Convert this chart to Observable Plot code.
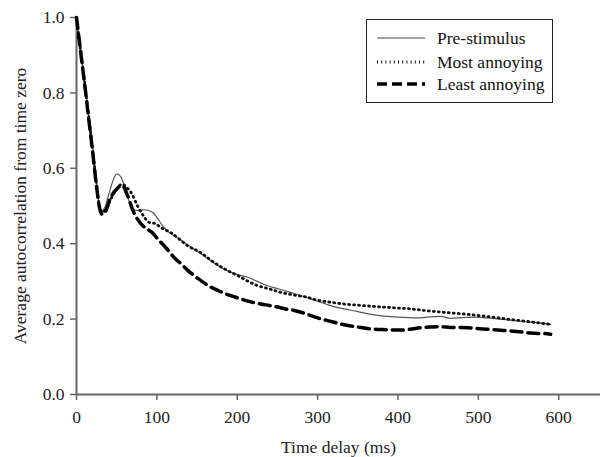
<!DOCTYPE html>
<html>
<head>
<meta charset="utf-8">
<script src="https://cdn.jsdelivr.net/npm/d3@7"></script>
<script src="https://cdn.jsdelivr.net/npm/@observablehq/plot@0.6"></script>
<style>
  html, body { margin: 0; padding: 0; background: #fff; }
  #wrap { position: relative; width: 600px; height: 457px; }
  #legend { position: absolute; left: 366px; top: 19px; width: 187px; height: 84px;
            border: 1px solid #222; box-sizing: border-box; background: #fff;
            font-family: "Liberation Serif", "Times New Roman", serif; font-size: 17.5px; color: #111; }
  .row { position: absolute; left: 0; height: 22px; }
  .row svg { position: absolute; left: 9px; top: 0; }
  .row span { position: absolute; left: 70px; top: 0; line-height: 22px; white-space: nowrap; }
</style>
</head>
<body>
<div id="wrap"></div>
<script>
// Time delay (ms) and average autocorrelation values
const preTime = [0,5,10,15,20,25,28,31,35,40,45,50,55,60,65,70,75,85,95,100,107,115,121,130,138,150,161,170,179,190,200,213,225,237,250,266,280,296,310,320,333,350,365,383,400,424,440,453,466,480,495,510,536,560,575,590];
const preVal  = [1.0,0.915,0.83,0.745,0.66,0.56,0.505,0.487,0.495,0.53,0.565,0.585,0.578,0.55,0.515,0.492,0.488,0.49,0.483,0.47,0.448,0.43,0.422,0.41,0.398,0.38,0.364,0.35,0.338,0.326,0.318,0.311,0.3,0.289,0.281,0.271,0.262,0.25,0.24,0.233,0.227,0.22,0.213,0.208,0.205,0.203,0.206,0.207,0.202,0.204,0.205,0.203,0.198,0.193,0.19,0.186];

const mostTime = [0,5,10,15,20,25,29,32,36,42,50,57,62,69,76,83,90,98,107,117,128,138,154,170,185,200,212,225,240,254,270,287,300,315,333,350,374,395,416,437,457,475,494,515,536,560,575,590];
const mostVal  = [1.0,0.915,0.83,0.74,0.65,0.555,0.495,0.482,0.49,0.515,0.545,0.558,0.55,0.532,0.5,0.475,0.457,0.453,0.44,0.43,0.412,0.395,0.377,0.352,0.332,0.316,0.302,0.289,0.28,0.271,0.264,0.258,0.25,0.245,0.24,0.237,0.233,0.23,0.227,0.222,0.218,0.215,0.211,0.206,0.2,0.194,0.19,0.186];

const leastTime = [0,5,10,15,20,25,29,32,36,42,50,57,63,71,80,87,94,102,111,123,130,138,146,156,167,178,188,198,208,218,229,240,250,260,271,281,291,302,318,333,350,366,385,403,415,428,440,449,466,487,505,524,544,565,586,590];
const leastVal  = [1.0,0.912,0.825,0.735,0.645,0.55,0.492,0.478,0.485,0.52,0.545,0.555,0.53,0.484,0.453,0.44,0.43,0.41,0.39,0.36,0.347,0.33,0.316,0.3,0.285,0.274,0.265,0.258,0.251,0.245,0.24,0.236,0.232,0.227,0.223,0.217,0.21,0.202,0.193,0.185,0.179,0.174,0.172,0.171,0.173,0.177,0.179,0.18,0.178,0.177,0.174,0.171,0.168,0.163,0.161,0.16];

const xTicks = [0,100,200,300,400,500,600];
const yTicks = [0,0.2,0.4,0.6,0.8,1.0];
const seriesNames = ["Pre-stimulus","Most annoying","Least annoying"];

const toRows = (t, v) => t.map((d, i) => ({t: d, v: v[i]}));
const pre = toRows(preTime, preVal);
const most = toRows(mostTime, mostVal);
const least = toRows(leastTime, leastVal);

const serif = '"Liberation Serif", "Times New Roman", serif';

const chart = Plot.plot({
  width: 600,
  height: 457,
  marginLeft: 76,
  marginRight: 0,
  marginTop: 17,
  marginBottom: 63,
  x: {domain: [0, 652]},
  y: {domain: [0, 1]},
  style: {fontFamily: '"Liberation Sans", Arial, sans-serif', fontSize: "14.5px", color: "#222", background: "#fff"},
  marks: [
    Plot.axisY({ticks: yTicks, tickFormat: d => d.toFixed(1), tickSize: 6, tickPadding: 6, stroke: "#666", strokeWidth: 1.5,
      label: "Average autocorrelation from time zero", labelAnchor: "center", labelArrow: "none", labelOffset: 63,
      fontFamily: serif, fontSize: 17.5}),
    Plot.axisX({ticks: xTicks, tickFormat: d => String(d), tickSize: 6, tickPadding: 10, stroke: "#666", strokeWidth: 1.5,
      label: "Time delay (ms)", labelAnchor: "center", labelArrow: "none", labelOffset: 58,
      fontFamily: serif, fontSize: 17.5}),
    Plot.ruleX([0], {y1: 0, y2: 1, stroke: "#666", strokeWidth: 2}),
    Plot.ruleY([0], {x1: 0, x2: 652, stroke: "#666", strokeWidth: 2}),
    Plot.line(pre, {x: "t", y: "v", curve: "monotone-x", stroke: "#555", strokeWidth: 1.2}),
    Plot.line(most, {x: "t", y: "v", curve: "monotone-x", stroke: "#111", strokeWidth: 2.8, strokeDasharray: "1,4"}),
    Plot.line(least, {x: "t", y: "v", curve: "monotone-x", stroke: "#000", strokeWidth: 3.5, strokeDasharray: "11,6"})
  ]
});

const wrap = document.getElementById("wrap");
wrap.appendChild(chart);

// Legend
const legend = document.createElement("div");
legend.id = "legend";
const styles = [
  {stroke: "#444", width: 1.2, dash: null},
  {stroke: "#111", width: 3, dash: "1,3.2"},
  {stroke: "#000", width: 3.5, dash: "10,5"}
];
const tops = [7, 31, 53];
seriesNames.forEach((name, i) => {
  const row = document.createElement("div");
  row.className = "row";
  row.style.top = tops[i] + "px";
  const s = styles[i];
  row.innerHTML = `<svg width="50" height="22"><line x1="1" x2="49" y1="11" y2="11" stroke="${s.stroke}" stroke-width="${s.width}" ${s.dash ? `stroke-dasharray="${s.dash}"` : ""}/></svg><span>${name}</span>`;
  legend.appendChild(row);
});
wrap.appendChild(legend);
</script>
</body>
</html>
